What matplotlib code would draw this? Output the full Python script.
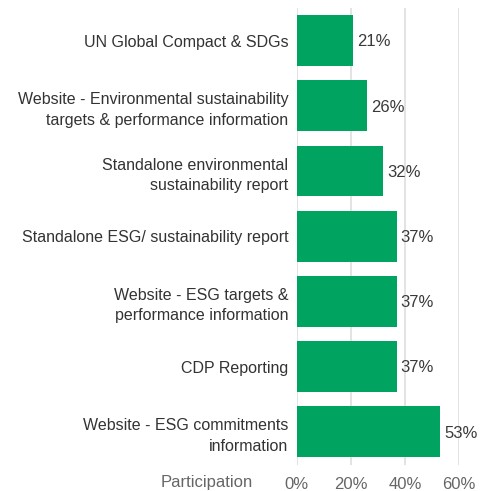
import matplotlib
matplotlib.use("Agg")
import matplotlib.pyplot as plt
from matplotlib.ticker import FuncFormatter

categories = [
    "UN Global Compact & SDGs",
    "Website - Environmental sustainability\ntargets & performance information",
    "Standalone environmental\nsustainability report",
    "Standalone ESG/ sustainability report",
    "Website - ESG targets &\nperformance information",
    "CDP Reporting",
    "Website - ESG commitments\ninformation",
]
values = [21, 26, 32, 37, 37, 37, 53]
x_ticks = [0, 20, 40, 60]

plt.rcParams["font.family"] = ["Liberation Sans", "DejaVu Sans"]

fig = plt.figure(figsize=(4.8, 4.91), dpi=100)
ax = fig.add_axes([296.5 / 480, 1 - 464.5 / 491, (459 - 296.5) / 480, (464.5 - 8) / 491])

pos = list(range(len(categories)))
ax.barh(pos, values, height=0.78, color="#00A35F", zorder=3)
for p, v in zip(pos, values):
    ax.text(v + 1.5, p + 0.02, f"{v}%", va="center", ha="left", fontsize=12, color="#3a3a3a")

ax.set_ylim(len(categories) - 0.5, -0.5)
ax.set_xlim(0, 60)
ax.set_yticks(pos)
ax.set_yticklabels(categories, fontsize=11.5, color="#333333", linespacing=1.45)
ax.set_xticks(x_ticks)
ax.xaxis.set_major_formatter(FuncFormatter(lambda v, _: f"{int(v)}%"))
ax.tick_params(axis="x", labelsize=12, labelcolor="#666666", length=0, pad=9)
ax.tick_params(axis="y", length=0, pad=6)
ax.grid(axis="x", color="#dedede", linewidth=1.2, zorder=0)
ax.set_axisbelow(True)
for s in ax.spines.values():
    s.set_visible(False)

fig.text(253 / 480, 1 - 483 / 491, "Participation", ha="right", va="center",
         fontsize=12, color="#666666")

fig.savefig("out.png", dpi=100)
